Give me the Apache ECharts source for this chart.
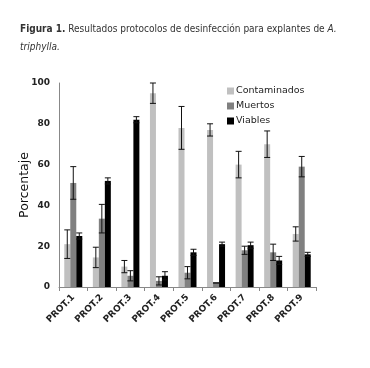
<!DOCTYPE html>
<html>
<head>
<meta charset="utf-8">
<script src="https://cdn.jsdelivr.net/npm/echarts@6/dist/echarts.min.js"></script>
<style>
  body { margin: 0; background: #fff; }
  #main { width: 370px; height: 368px; }
</style>
</head>
<body>
<div id="main"></div>
<script>
// datos
var protocolos = ["PROT.1", "PROT.2", "PROT.3", "PROT.4", "PROT.5", "PROT.6", "PROT.7", "PROT.8", "PROT.9"];
var contaminados = [21, 14.5, 10, 95, 78, 77, 60, 70, 26];
var contaminadosErr = [7, 5, 3, 5, 10.5, 3, 6.5, 6.5, 3.5];
var muertos = [51, 33.5, 5.5, 3, 7, 2, 18, 17, 59];
var muertosErr = [8, 7, 2.5, 2, 3, 0, 2, 4, 5];
var viables = [25, 52, 82, 5.5, 17, 21, 20.5, 13, 16];
var viablesErr = [1.5, 1.5, 1.5, 2, 1.5, 1, 1.5, 2, 1];
var yTicks = [0, 20, 40, 60, 80, 100];

var barW = 6;

function errorSeries(vals, errs, shift) {
  var data = [];
  for (var i = 0; i < vals.length; i++) {
    data.push([i, vals[i] - errs[i], vals[i] + errs[i]]);
  }
  return {
    type: "custom",
    silent: true,
    z: 10,
    data: data,
    encode: { x: 0, y: [1, 2] },
    renderItem: function (params, api) {
      var lo = api.coord([api.value(0), api.value(1)]);
      var hi = api.coord([api.value(0), api.value(2)]);
      var x = lo[0] + shift * barW;
      var cap = 3;
      var st = { stroke: "#111", lineWidth: 1 };
      return {
        type: "group",
        children: [
          { type: "line", shape: { x1: x, y1: lo[1], x2: x, y2: hi[1] }, style: st },
          { type: "line", shape: { x1: x - cap, y1: lo[1], x2: x + cap, y2: lo[1] }, style: st },
          { type: "line", shape: { x1: x - cap, y1: hi[1], x2: x + cap, y2: hi[1] }, style: st }
        ]
      };
    }
  };
}

var titleFont = "DejaVu Sans Condensed, Liberation Sans Narrow, sans-serif";

var myChart = echarts.init(document.getElementById("main"));
myChart.setOption({
  animation: false,
  backgroundColor: "#fff",
  title: {
    left: 15,
    top: 15,
    text: "{b|Figura 1.} Resultados protocolos de desinfección para explantes de {i|A.}\n{i|triphylla.}",
    textStyle: {
      fontFamily: titleFont,
      fontSize: 10,
      fontWeight: "normal",
      color: "#333",
      lineHeight: 18,
      rich: {
        b: { fontFamily: titleFont, fontSize: 10, fontWeight: "bold", color: "#333", lineHeight: 18 },
        i: { fontFamily: titleFont, fontSize: 10, fontStyle: "italic", color: "#333", lineHeight: 18 }
      }
    }
  },
  legend: {
    orient: "vertical",
    left: 222,
    top: 81,
    itemWidth: 7,
    itemHeight: 7,
    itemGap: 5,
    icon: "rect",
    textStyle: { fontFamily: "DejaVu Sans", fontSize: 9.5, color: "#222", padding: [0, 0, 0, -3] },
    data: ["Contaminados", "Muertos", "Viables"]
  },
  grid: { left: 59, right: 54, top: 83, bottom: 81 },
  xAxis: {
    type: "category",
    data: protocolos,
    axisLine: { lineStyle: { color: "#888" } },
    axisTick: { show: true, lineStyle: { color: "#888" }, length: 4 },
    axisLabel: {
      rotate: 45,
      interval: 0,
      margin: 9,
      fontFamily: "DejaVu Sans",
      fontWeight: "bold",
      fontSize: 9,
      color: "#222"
    }
  },
  yAxis: {
    type: "value",
    min: 0,
    max: 100,
    interval: 20,
    name: "Porcentaje",
    nameLocation: "middle",
    nameGap: 28,
    nameMoveOverlap: false,
    nameTextStyle: { fontFamily: "DejaVu Sans", fontSize: 12.5, color: "#111" },
    axisLine: { show: true, lineStyle: { color: "#888" } },
    axisTick: { show: false },
    splitLine: { show: false },
    axisLabel: {
      fontFamily: "DejaVu Sans",
      fontWeight: "bold",
      fontSize: 9,
      color: "#222",
      margin: 9,
      formatter: function (v) { return yTicks.indexOf(v) >= 0 ? v : ""; }
    }
  },
  series: [
    { name: "Contaminados", type: "bar", data: contaminados, barWidth: barW, barGap: "0%", itemStyle: { color: "#c0c0c0" } },
    { name: "Muertos", type: "bar", data: muertos, barWidth: barW, barGap: "0%", itemStyle: { color: "#808080" } },
    { name: "Viables", type: "bar", data: viables, barWidth: barW, barGap: "0%", itemStyle: { color: "#000" } },
    errorSeries(contaminados, contaminadosErr, -1),
    errorSeries(muertos, muertosErr, 0),
    errorSeries(viables, viablesErr, 1)
  ]
});
</script>
</body>
</html>
